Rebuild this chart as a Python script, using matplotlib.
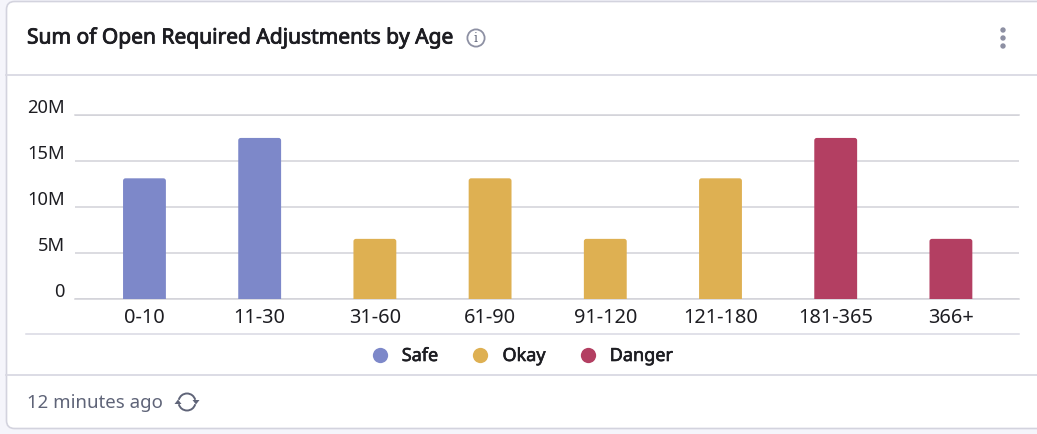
#!/usr/bin/env python3
# -*- coding: utf-8 -*-
import matplotlib

matplotlib.use('Agg')
import matplotlib.patheffects as pe
import matplotlib.pyplot as plt
from matplotlib.lines import Line2D
from matplotlib.patches import Arc, Circle, FancyBboxPatch, Polygon

plt.rcParams['font.family'] = ['Noto Sans', 'DejaVu Sans']

W, H = 1037, 434

age_groups = ['0-10', '11-30', '31-60', '61-90', '91-120', '121-180', '181-365', '366+']
sums_m = [13.1, 17.5, 6.5, 13.1, 6.5, 13.1, 17.5, 6.5]
statuses = ['Safe', 'Safe', 'Okay', 'Okay', 'Okay', 'Okay', 'Danger', 'Danger']
status_names = ['Safe', 'Okay', 'Danger']
status_colors = ['#7d88c9', '#deb052', '#b33f62']
y_ticks = [0, 5, 10, 15, 20]
y_tick_labels = ['0', '5M', '10M', '15M', '20M']

TITLE = 'Sum of Open Required Adjustments by Age'
UPDATED = '12 minutes ago'

LINE = '#d9d9e3'
GRID = '#d2d2d8'
INK = '#1d1d22'
MUTED = '#5f6478'
ICON = '#8d90a3'


def px_axes(rect_px):
  # rect_px is left, top, right, bottom in picture pixels
  l, t, r, b = rect_px
  return [l / W, 1 - b / H, (r - l) / W, (b - t) / H]


def heavier(width):
  # only the regular face of Noto Sans is there, a thin stroke thickens it
  return [pe.withStroke(linewidth=width, foreground=INK)]


def draw_card(bg):
  bg.add_patch(FancyBboxPatch((6.5, 1.5), 1100, 427, boxstyle='round,pad=0,rounding_size=8',
                              facecolor='white', edgecolor='#d3d3de', linewidth=1.2))
  bg.plot([6, W], [75, 75], color=LINE, lw=1.3)
  bg.plot([6, W], [375, 375], color=LINE, lw=1.3)
  bg.plot([26, 1019], [334, 334], color=LINE, lw=1.1)


def draw_icons(bg):
  # info icon next to the title
  bg.add_patch(Circle((476, 38), 8.6, facecolor='none', edgecolor=ICON, lw=1.3))
  bg.text(476, 38.5, 'i', ha='center', va='center', fontsize=9, color=MUTED, family='DejaVu Serif')

  # kebab menu
  for y in (30, 38, 46):
    bg.add_patch(Circle((1003, y), 2.7, facecolor=ICON, edgecolor='none'))

  # refresh icon
  bg.add_patch(Arc((187, 402), 17, 17, theta1=195, theta2=345, color=MUTED, lw=1.4))
  bg.add_patch(Arc((187, 402), 17, 17, theta1=15, theta2=165, color=MUTED, lw=1.4))
  bg.add_patch(Polygon([[192.5, 400], [199.5, 400], [196, 404.5]], color=MUTED, lw=0))
  bg.add_patch(Polygon([[174.5, 404], [181.5, 404], [178, 399.5]], color=MUTED, lw=0))


def round_bar_tops(ax, bars, radius_px, ax_w_px, ax_h_px):
  # swap each bar for a rounded box, its lower corners are clipped off below zero
  x0, x1 = ax.get_xlim()
  y0, y1 = ax.get_ylim()
  px_x = ax_w_px / (x1 - x0)
  px_y = ax_h_px / (y1 - y0)
  for bar in bars:
    bar.set_visible(False)
    ax.add_patch(FancyBboxPatch((bar.get_x(), -1), bar.get_width(), bar.get_height() + 1,
                                boxstyle=f'round,pad=0,rounding_size={radius_px / px_x}',
                                mutation_aspect=px_x / px_y, facecolor=bar.get_facecolor(),
                                edgecolor='none', zorder=3))


def main():
  fig = plt.figure(figsize=(W / 100, H / 100), dpi=100, facecolor='#f5f5fb')

  bg = fig.add_axes([0, 0, 1, 1])
  bg.set_xlim(0, W)
  bg.set_ylim(H, 0)
  bg.axis('off')
  draw_card(bg)
  draw_icons(bg)

  bg.text(27, 38, TITLE, fontsize=15.1, color=INK, va='center', ha='left', path_effects=heavier(0.6))
  bg.text(27, 402.5, UPDATED, fontsize=13.4, color=MUTED, va='center', ha='left')

  # 20M gridline sits at y=115 and zero at y=298.5
  ax = fig.add_axes(px_axes((75, 115, 1019, 298.5)))
  ax.patch.set_alpha(0)
  color_of = dict(zip(status_names, status_colors))
  xs = list(range(len(age_groups)))
  bars = ax.bar(xs, sums_m, width=0.372, color=[color_of[s] for s in statuses], zorder=3)

  ax.set_xlim(-0.603, 7.591)
  ax.set_ylim(0, 20)
  round_bar_tops(ax, bars, 2.5, 944, 183.5)

  ax.set_yticks(y_ticks)
  ax.set_yticklabels([])
  ax.set_xticks(xs)
  ax.set_xticklabels(age_groups, fontsize=14.4, color=INK)
  ax.tick_params(axis='both', length=0)
  ax.tick_params(axis='x', pad=6.5)
  ax.grid(axis='y', color=GRID, lw=1.1, zorder=0)
  for side in ('top', 'right', 'left'):
    ax.spines[side].set_visible(False)
  ax.spines['bottom'].set_color(GRID)
  ax.spines['bottom'].set_linewidth(1.1)
  ax.plot([0, 1], [1, 1], transform=ax.transAxes, color=GRID, lw=1.1, clip_on=False)

  # y labels sit a little above their gridlines, right aligned to the plot edge
  for tick, label in zip(y_ticks, y_tick_labels):
    ax.annotate(label, xy=(0, tick), xycoords=('axes fraction', 'data'), xytext=(-10, 6.6),
                textcoords='offset pixels', ha='right', va='center', fontsize=13.2, color=INK)

  handles = [Line2D([], [], ls='none', marker='o', ms=11, mfc=c, mec='none') for c in status_colors]
  leg = fig.legend(handles, status_names, loc='center', bbox_to_anchor=(522 / W, 1 - 356 / H), ncol=3,
                   frameon=False, handlelength=0.95, handletextpad=0.75, columnspacing=1.85,
                   prop={'size': 13}, labelcolor=INK)
  for text in leg.get_texts():
    text.set_path_effects(heavier(0.45))

  fig.savefig('out.png', dpi=100, facecolor=fig.get_facecolor())


if __name__ == '__main__':
  main()
